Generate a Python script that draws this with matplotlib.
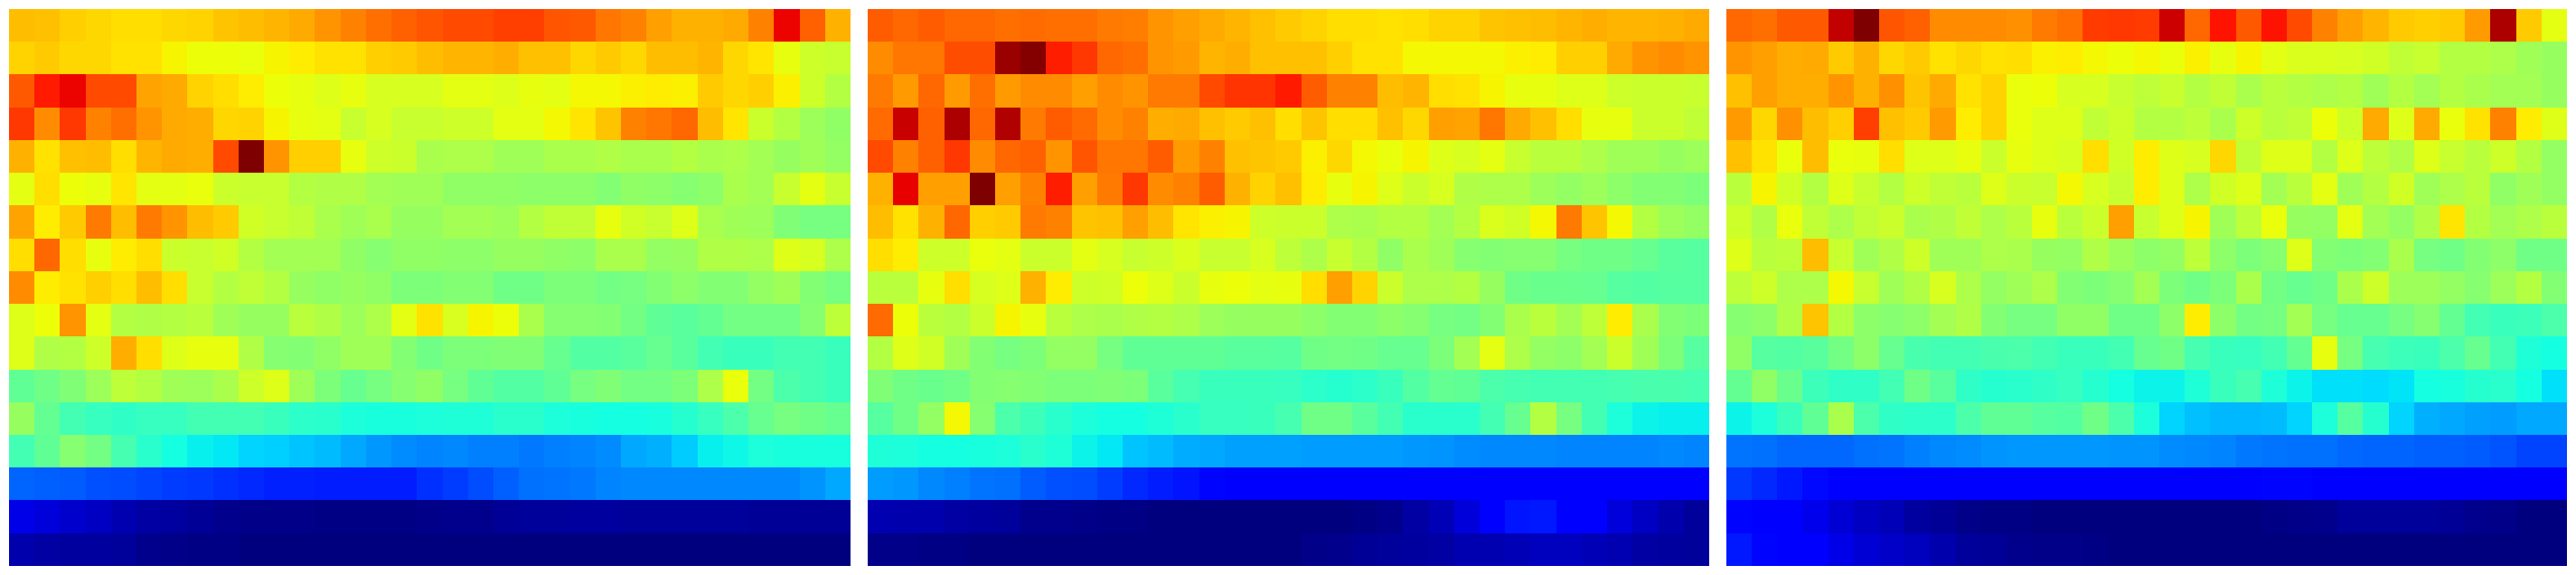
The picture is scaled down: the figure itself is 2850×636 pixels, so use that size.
import numpy as np
import matplotlib
matplotlib.use("Agg")
import matplotlib.pyplot as plt

panel_left = [
 [71,70.5,69,68,67.5,67.5,68,68.5,70,71,71.5,73,75,77,79,80.5,82, 83,83,84,84,82,81.5,78.5,77,74,72,72,73,77,90.5,80.5,72],
 [68.5,69.5,68,68,67,67,65,64,64,63.5,65,66,67,67,69,69.5,71, 71.5,71.5,72.5,70.5,70.5,68,69.5,68,71,71,71.5,68,66.5,63,60,59],
 [81.5,88,90.5,83,83,73.5,73,68.5,67.5,66,64,63,62,63,61,61,61, 62.5,62.5,62,63,62.5,64.5,64.5,65.5,66,65.5,69.5,68,69,65.5,60,57],
 [85,76,85,77,79,75,73,72.5,68,68.5,65,63,62.5,59,61,59,59, 60,60,62.5,62.5,64.5,66.5,70,77,78.5,80,71,66.5,59.5,57,54,52.5],
 [72,67,70.5,71,67.5,71.5,73,72.5,83,100,75,69,69,63,60,59.5,55.5, 56,56,54.5,54.5,55.5,55.5,56.5,55.5,55.5,57,55.5,56,55,53.5,54.5,53],
 [62.5,67.5,64,63,66.5,62.5,62.5,63.5,59.5,59,59,57,56.5,56.5,55,54.5,54.5, 52.5,52.5,52.5,52,52,52,51,52.5,52,51.5,52,55.5,55,59,62.5,59],
 [73.5,66,69.5,78,71,78,75,71,69.5,60.5,59,58.5,55.5,54.5,55.5,53.5,53.5, 55,55,54,57,58.5,58.5,63,60.5,59,62,55.5,54.5,54,50.5,49.5,49.5],
 [67.5,80,67.5,63,66,67.5,59.5,59,60.5,57,55,55,55,52.5,51.5,52.5,52.5, 52,52,53.5,53.5,52.5,52,55.5,55.5,53,53.5,56.5,56.5,56,62,61,56],
 [76,66,67,69,67.5,71,67.5,59,57,58.5,57,53.5,52.5,53.5,52.5,50,50, 51,51,48.5,48.5,50,50,49,49.5,51,52,51,51,53,54.5,51,49.5],
 [62,64,75,62.5,57,56.5,57,57.5,54.5,53.5,53.5,57.5,56.5,54,56,62.5,67, 61,65,64,55.5,51.5,51.5,51,49,46.5,46,47,49,49,49,51.5,58],
 [62,56.5,57,60,72.5,67.5,62,63,63,56.5,51.5,51,52.5,54.5,54.5,51,48.5, 50,50,50.5,50.5,47.5,45,45,46,47.5,46,43,42,42,43,43,42],
 [46.5,48.5,50.5,54,58,57,54.5,54,55.5,60,62,54.5,50,47.5,49.5,51.5,52.5, 49.5,46.5,45,45,46.5,49.5,50.5,49,49,50,56,63.5,49,44.5,43,42],
 [53.5,47,43,41.5,41,41.5,41.5,43,43,43,42,40.5,40,38.5,38,38,38.5, 39,39,40,40,38.5,38,37.5,37.5,38,39.5,41.5,44.5,47.5,49.5,48.5,47.5],
 [43,46.5,51.5,49,43.5,40,37.5,36,35.5,33.5,33,32,31,29,27.5,26.5,25.5, 26,25,25,24.5,25,25.5,26.5,29,30,32.5,36,37,38.5,38,38,38],
 [22.5,22,21.5,20.5,20,19.5,18.5,18,17.5,16.5,16,16,15.5,15.5,15.5,15.5,17.5, 18.5,20,22,23.5,24,24.5,25.5,26,26,26,26,26,26,26,27,29],
 [9,8,7,6,4.5,3.5,3,2,1.5,1,1,1,0.5,0.5,0.5,0.5,1, 1.5,1.5,2,2.5,2.5,3,3,2.5,2.5,2.5,2.5,2.5,2,2,2,2],
 [4,3.5,3,3,2.5,1.5,1,0.5,0.5,0,0,0,0,0,0,0,0, 0,0,0,0,0,0,0,0,0,0,0,0,0,0,0,0],
]

panel_middle = [
 [81,80,81,80,80,79,79.5,79,79,78,77.5,75,74,73,71.5,70.5,69.5, 68.5,67.5,67.5,67,67.5,68.5,68.5,70,70.5,71,71.5,72.5,71.5,71.5,72,73],
 [76,78.5,78.5,82.5,82.5,97.5,99.5,87.5,85,80,79,75,74.5,71.5,72.5,70.5,70.5, 70.5,69,67,67,64.5,64.5,64.5,64.5,65.5,66,69,69,73,75,76,75],
 [78,74.5,80,74.5,79,74.5,76,76,74,76,75,78,78,83,85.5,85.5,88, 81,77,77,71,71.5,67.5,67,65,63,63,62,62,60,59.5,59.5,59],
 [79.5,93.5,80.5,96,80,95.5,78,81,79.5,76,77,72.5,73,70.5,69.5,70.5,67.5, 70,67.5,67.5,70.5,68,74,73.5,78.5,73,70.5,67.5,63,63,59.5,59.5,58.5],
 [83,77,80.5,85,76,80,80.5,75,82,78.5,78.5,81,74.5,77,70.5,70,69.5, 65.5,68,64.5,63.5,65,62,61,62.5,59,57.5,57.5,56,54.5,54.5,53.5,54],
 [72,91,74,74,100,74,77,87.5,74,78,85,76,77,81,72,68.5,70.5, 66,63,65,62,59.5,61,56.5,56,56,54,53,54,52,51,51,50],
 [71,67,72,80,69,69.5,78,77,70,70.5,74,71,66.5,65.5,65,60,59.5, 59.5,56,55.5,57,57,55,57,61.5,60.5,64.5,78,70,64.5,57,54,53],
 [67.5,66,60,60,63.5,62.5,59.5,59.5,62.5,61,59,60,61.5,59,59,61,58, 56,59,57,52.5,55.5,54.5,51.5,51,51.5,51.5,49.5,48.5,48.5,47.5,46,45.5],
 [57.5,57.5,63,67.5,61,62,72,66,60,60.5,64,62,59.5,63,64,62.5,63, 67.5,74,68.5,59.5,56,56,57,53.5,48.5,48,48,47.5,45.5,45,45.5,45.5],
 [79.5,64,57.5,57,59.5,65,63,57.5,56,55.5,56.5,57,56,54,53.5,53.5,53.5, 52,51,51,52,51.5,49.5,49,51,55.5,57.5,55,58,66,55.5,51,50],
 [57,62,60.5,54.5,51,49.5,50,53,53,49.5,46.5,46.5,46.5,46.5,46,46,45.5, 48.5,49,48.5,47.5,47.5,50,55,62.5,56,53,52,55,59.5,54.5,50,45.5],
 [50.5,48.5,48,48.5,51,51.5,51,50,50,50.5,50,46,43.5,42,42,42,41.5, 40.5,39.5,40.5,42,45,47,46.5,44.5,43.5,43,43,43,43.5,44,44,43.5],
 [45.5,48.5,53,64.5,51.5,44.5,42.5,40,38.5,37.5,37.5,39,40,41.5,41.5,42,43.5, 48.5,48.5,46,43,40,40,40,43,47.5,57,49.5,43,38.5,36.5,36,36],
 [39,38.5,37.5,37.5,38,38.5,40,39,36.5,35.5,32,31,29.5,29,28.5,28.5,28.5, 28,28,28,28,27.5,27,26.5,26,26,26,25.5,25.5,25.5,25.5,26,25.5],
 [28,27.5,26,25,24,23.5,21.5,20.5,20,18.5,16.5,15.5,14.5,13,12.5,12,11.5, 11.5,11.5,11.5,11.5,11.5,11.5,11.5,11.5,11.5,11.5,11.5,11.5,11.5,11.5,11.5,11.5],
 [4.5,4,4,3.5,3,2.5,1.5,1.5,1,0.5,0.5,0,0,0,0,0,0, 0,0,0.5,1.5,3.5,5,8,11,14.5,15,11.5,11,8,6,4,2.5],
 [1,1,0.5,0.5,0,0,0,0,0,0,0,0,0,0,0,0,0, 1,1.5,2,2.5,3,3.5,4.5,4.5,5,5.5,5.5,5,4.5,3.5,3,2.5],
]

panel_right = [
 [80,79,81.5,81.5,94,100,82,80.5,76,76,76,75.5,78,79,84.5,85,84.5, 93,80,89,81.5,89,83,77,74,71.5,69.5,69,69.5,74.5,96,69.5,62.5],
 [75,74,72.5,73,69.5,72,68,69.5,67,68,67,67.5,65.5,66,64.5,64,64.5, 63.5,65.5,63,65,62.5,61.5,61.5,61,60.5,58.5,59,57,57,56,54.5,53.5],
 [70.5,74,72.5,72.5,75,72,75.5,70,73,67,68.5,63.5,64,61,61,59,58, 59,57,58.5,55.5,57.5,57,56,57,54.5,57,55,57,55.5,55,55,53.5],
 [74.5,68,75.5,71,69,84,70.5,69.5,74.5,66,68.5,63.5,62,62,58.5,60,57, 57,58,55.5,60,57.5,58.5,64,60,73,62,73,63.5,67,77,66,62],
 [70.5,67,63.5,71,63.5,63,67.5,62,62,63,59.5,63,62,61,67.5,60.5,66, 62,61,68,58.5,62,62,57,62,58,56.5,62,59,57.5,60,57,53],
 [57.5,65,60.5,57,62,59,57,60,58.5,57.5,62,59.5,59,64.5,61,59,66, 62,56,60.5,62,55,57.5,62.5,54.5,57,60.5,54.5,56,57.5,52.5,54.5,53],
 [60,56.5,63.5,58.5,56,58.5,59.5,55.5,56.5,58.5,56,57.5,63,57.5,59.5,74,59, 62,65,54.5,58,63.5,53.5,53,62.5,55,53,56.5,66.5,57,55,56,57.5],
 [62,57.5,58,71,59,54.5,56.5,60,54.5,54.5,56,55.5,53.5,53,56.5,54,52, 53,58,52,50,51.5,62,51,50,51,55.5,49.5,48.5,51,52,48.5,48.5],
 [58,60,56,56,64.5,59,54.5,56.5,61,56,53,54.5,56,51,50,51.5,55, 50,48.5,50,55.5,49,47.5,48.5,55.5,60,54,54,53,51.5,54,57,51],
 [51.5,52,56.5,70,57,52,51.5,52,55,56.5,51,49.5,49.5,52.5,52.5,48.5,48.5, 52,66,52,49,49.5,55,49.5,47.5,47.5,49.5,51.5,47,43,42,42.5,44.5],
 [52.5,45.5,45,46,49,52,47.5,44,43,43,44,44.5,43,42,42,43,47.5, 48.5,43.5,42,41.5,43,47,63,49.5,43.5,42.5,42,44.5,47.5,43,39,37.5],
 [47,52.5,48,42.5,41,41,43,48.5,46,41,39.5,40,41,41.5,39.5,37.5,36.5, 36.5,39,42,43.5,39,36.5,34.5,34.5,34,35,37.5,38,39.5,40,37.5,34.5],
 [36.5,38.5,42,46.5,55.5,44.5,41,40.5,40.5,44.5,46.5,46.5,45.5,45,48.5,44.5,38.5, 33.5,31.5,30.5,30.5,31,33.5,38.5,45.5,39.5,33.5,30,29,28.5,28,29,29],
 [24,23.5,23,23,23,23.5,24,25,26,26.5,27,27.5,27.5,27.5,27.5,27,27, 26.5,26,25.5,24.5,24,23.5,23.5,23,22.5,22.5,22,22,21.5,21,19.5,19.5],
 [18,16.5,15,13.5,11.5,11,11,11,11,11,11,11,11,11,11,11,11, 11,11,11,12,13,13,12.5,12,12,11.5,11,11,11,11,11,11],
 [13,11.5,11,9.5,7.5,6,5,3,2,1,0.5,0.5,0,0,0,0,0, 0,0,0,0,0.5,1,1.5,2.5,2.5,2.5,2.5,2,1.5,1,0,0],
 [15,13,11,11,9,7.5,6.5,5.5,4,2.5,2,1.5,1,1,0.5,0,0, 0,0,0,0,0,0,0,0,0,0,0,0,0,0,0,0],
]

panels = [panel_left, panel_middle, panel_right]

W, H = 2850, 636
lefts = [10, 960, 1910]
fig = plt.figure(figsize=(W / 100, H / 100), dpi=100, facecolor="white")
for left, data in zip(lefts, panels):
    ax = fig.add_axes([left / W, 1 - 626 / H, 930 / W, 616 / H])
    ax.imshow(np.array(data, dtype=float), cmap="jet", vmin=0, vmax=100,
              aspect="auto", interpolation="nearest")
    ax.axis("off")
fig.savefig("out.png", dpi=100, facecolor="white")
